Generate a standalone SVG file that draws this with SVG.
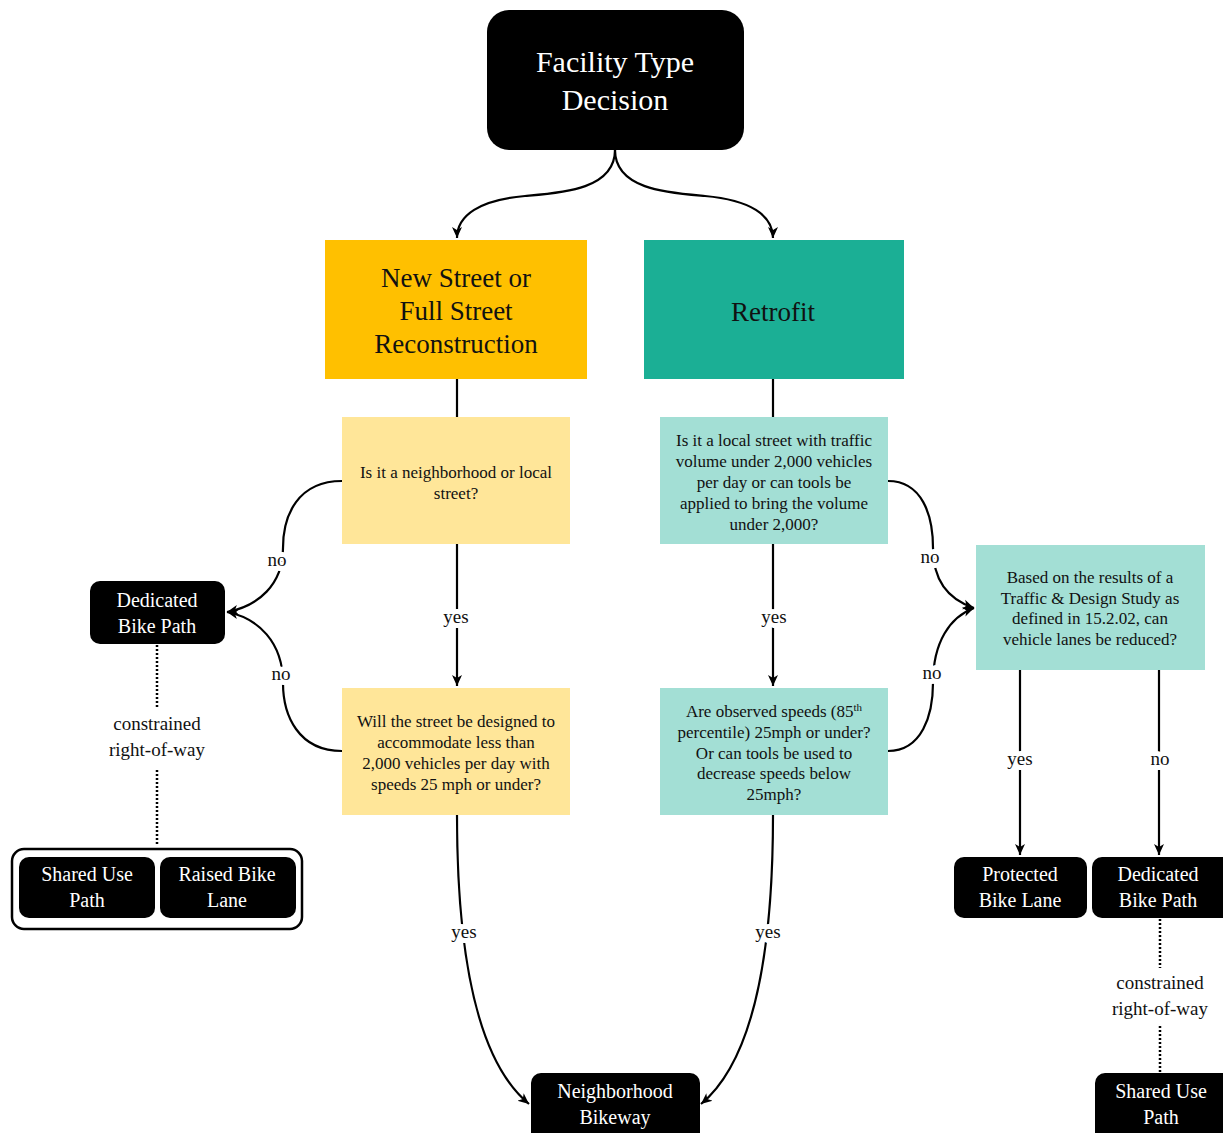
<svg xmlns="http://www.w3.org/2000/svg" width="1223" height="1133" viewBox="0 0 1223 1133">
<style>
.dark{fill:#000}
.t{font-family:'Liberation Serif','Tinos','Times New Roman','DejaVu Serif',serif;text-anchor:middle}
.w{fill:#fff}
.k{fill:#111}
.big{font-size:30px}
.mid{font-size:27px}
.sm{font-size:17px}
.nd{font-size:20px}
.lbl{font-size:19px;fill:#111;stroke:#fff;stroke-width:10px;paint-order:stroke;stroke-linejoin:round}
.c{fill:none;stroke:#000;stroke-width:2.2}
.dot{fill:none;stroke:#000;stroke-width:2.5;stroke-dasharray:2 2}
</style>
<defs>
<marker id="ah" markerUnits="userSpaceOnUse" markerWidth="12" markerHeight="12" refX="11" refY="6" orient="auto">
<path d="M0,1 L11,6 L0,11 L3,6 Z" fill="#000"/>
</marker>
</defs>

<g id="connectors">
<path class="c" d="M615,150 C615,190 560,193 525,196 C480,200 457,215 457,238" marker-end="url(#ah)"/>
<path class="c" d="M615,150 C615,190 670,193 705,196 C750,200 773,215 773,238" marker-end="url(#ah)"/>
<path class="c" d="M457,379 L457,417"/>
<path class="c" d="M773,379 L773,417"/>
<path class="c" d="M457,544 L457,686" marker-end="url(#ah)"/>
<path class="c" d="M773,544 L773,686" marker-end="url(#ah)"/>
<path class="c" d="M342,481 C298,481 283,515 283,548 C283,585 258,606 227,612" marker-end="url(#ah)"/>
<path class="c" d="M342,751 C298,751 283,715 283,683 C283,642 258,618 227,612" marker-end="url(#ah)"/>
<path class="c" d="M888,481 C922,481 933,515 933,548 C933,582 950,600 974,608" marker-end="url(#ah)"/>
<path class="c" d="M888,751 C922,751 933,715 933,683 C933,642 950,617 974,608" marker-end="url(#ah)"/>
<path class="c" d="M1020,670 L1020,855" marker-end="url(#ah)"/>
<path class="c" d="M1159,670 L1159,855" marker-end="url(#ah)"/>
<path class="c" d="M457,815 C457,960 478,1062 529,1104" marker-end="url(#ah)"/>
<path class="c" d="M773,815 C773,960 752,1062 701,1104" marker-end="url(#ah)"/>
<path class="dot" d="M157,645 L157,708"/>
<path class="dot" d="M157,770 L157,845"/>
<path class="dot" d="M1160,919 L1160,968"/>
<path class="dot" d="M1160,1026 L1160,1073"/>
<text class="t lbl" x="277" y="566">no</text>
<text class="t lbl" x="281" y="680">no</text>
<text class="t lbl" x="930" y="563">no</text>
<text class="t lbl" x="932" y="679">no</text>
<text class="t lbl" x="456" y="623">yes</text>
<text class="t lbl" x="774" y="623">yes</text>
<text class="t lbl" x="1020" y="765">yes</text>
<text class="t lbl" x="1160" y="765">no</text>
<text class="t lbl" x="464" y="938">yes</text>
<text class="t lbl" x="768" y="938">yes</text>
<text class="t lbl" x="157" y="730">constrained</text>
<text class="t lbl" x="157" y="756">right-of-way</text>
<text class="t lbl" x="1160" y="989">constrained</text>
<text class="t lbl" x="1160" y="1015">right-of-way</text>
</g>

<g id="n-start">
<rect x="487" y="10" width="257" height="140" rx="22" class="dark"/>
<text class="t w big" x="615" y="72">Facility Type</text>
<text class="t w big" x="615" y="110">Decision</text>
</g>

<g id="n-new">
<rect x="325" y="240" width="262" height="139" fill="#FFC000"/>
<text class="t k mid" x="456" y="287">New Street  or</text>
<text class="t k mid" x="456" y="320">Full Street</text>
<text class="t k mid" x="456" y="353">Reconstruction</text>
</g>

<g id="n-retrofit">
<rect x="644" y="240" width="260" height="139" fill="#1BAF95"/>
<text class="t k mid" x="773" y="321">Retrofit</text>
</g>

<g id="q1">
<rect x="342" y="417" width="228" height="127" fill="#FFE699"/>
<text class="t k sm" x="456" y="478">Is it a neighborhood or local</text>
<text class="t k sm" x="456" y="499">street?</text>
</g>

<g id="q2">
<rect x="342" y="688" width="228" height="127" fill="#FFE699"/>
<text class="t k sm" x="456" y="727">Will  the street be designed to</text>
<text class="t k sm" x="456" y="748">accommodate  less than</text>
<text class="t k sm" x="456" y="769">2,000  vehicles per day with</text>
<text class="t k sm" x="456" y="790">speeds 25 mph or under?</text>
</g>

<g id="q3">
<rect x="660" y="417" width="228" height="127" fill="#A3DFD5"/>
<text class="t k sm" x="774" y="446">Is it a local street with traffic</text>
<text class="t k sm" x="774" y="467">volume under 2,000  vehicles</text>
<text class="t k sm" x="774" y="488">per day or can tools be</text>
<text class="t k sm" x="774" y="509">applied to bring the volume</text>
<text class="t k sm" x="774" y="530">under 2,000?</text>
</g>

<g id="q4">
<rect x="660" y="688" width="228" height="127" fill="#A3DFD5"/>
<text class="t k sm" x="774" y="717">Are observed speeds (85<tspan font-size="11" dy="-6">th</tspan></text>
<text class="t k sm" x="774" y="738">percentile)  25mph  or under?</text>
<text class="t k sm" x="774" y="759">Or can tools be used to</text>
<text class="t k sm" x="774" y="779">decrease speeds below</text>
<text class="t k sm" x="774" y="800">25mph?</text>
</g>

<g id="q5">
<rect x="976" y="545" width="229" height="125" fill="#A3DFD5"/>
<text class="t k sm" x="1090" y="583">Based on the results of a</text>
<text class="t k sm" x="1090" y="604">Traffic  &amp; Design Study as</text>
<text class="t k sm" x="1090" y="624">defined in  15.2.02,   can</text>
<text class="t k sm" x="1090" y="645">vehicle lanes be reduced?</text>
</g>

<g id="n-dedicated-left">
<rect x="90" y="581" width="135" height="63" rx="10" class="dark"/>
<text class="t w nd" x="157" y="607">Dedicated</text>
<text class="t w nd" x="157" y="633">Bike  Path</text>
</g>

<g id="n-group-left">
<rect x="12" y="849" width="290" height="80" rx="12" fill="#fff" stroke="#000" stroke-width="2.5"/>
<rect x="19" y="857" width="136" height="61" rx="10" class="dark"/>
<text class="t w nd" x="87" y="881">Shared Use</text>
<text class="t w nd" x="87" y="907">Path</text>
<rect x="160" y="857" width="136" height="61" rx="10" class="dark"/>
<text class="t w nd" x="227" y="881">Raised  Bike</text>
<text class="t w nd" x="227" y="907">Lane</text>
</g>

<g id="n-protected">
<rect x="954" y="857" width="133" height="61" rx="10" class="dark"/>
<text class="t w nd" x="1020" y="881">Protected</text>
<text class="t w nd" x="1020" y="907">Bike  Lane</text>
</g>

<g id="n-dedicated-right">
<rect x="1092" y="857" width="140" height="61" rx="10" class="dark"/>
<text class="t w nd" x="1158" y="881">Dedicated</text>
<text class="t w nd" x="1158" y="907">Bike  Path</text>
</g>

<g id="n-shared-right">
<rect x="1095" y="1073" width="140" height="75" rx="10" class="dark"/>
<text class="t w nd" x="1161" y="1098">Shared Use</text>
<text class="t w nd" x="1161" y="1124">Path</text>
</g>

<g id="n-neighborhood">
<rect x="531" y="1073" width="169" height="75" rx="10" class="dark"/>
<text class="t w nd" x="615" y="1098">Neighborhood</text>
<text class="t w nd" x="615" y="1124">Bikeway</text>
</g>
</svg>
